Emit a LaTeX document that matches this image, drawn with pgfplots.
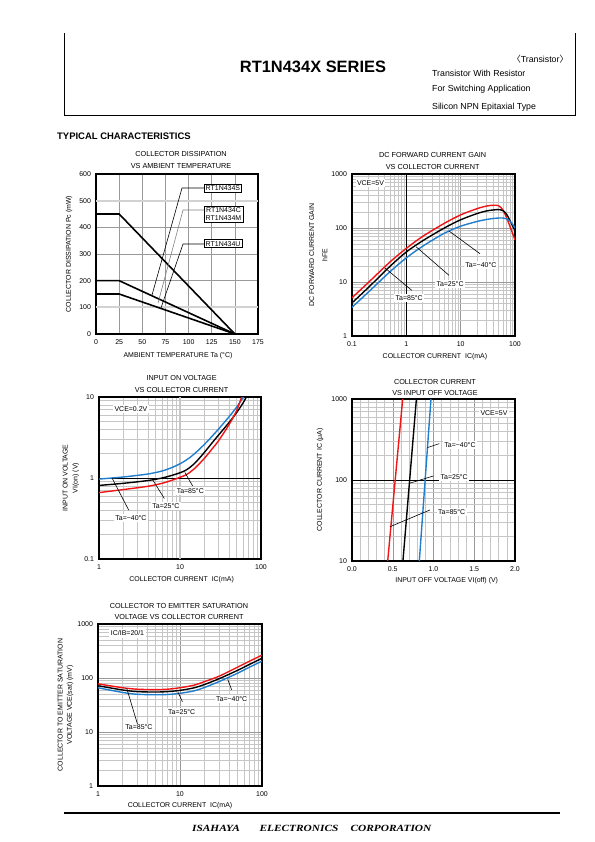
\documentclass[border=0pt]{standalone}
\usepackage{fontspec}
\setmainfont{Liberation Sans}
\newfontfamily\cjk{Noto Sans CJK JP}
\newfontfamily\serbi{Liberation Serif}
\usepackage{graphicx}
\usepackage{pgfplots}
\pgfplotsset{compat=1.18}

\definecolor{cred}{RGB}{240,20,20}
\definecolor{cblue}{RGB}{30,125,205}
\newcommand\tk{\fontsize{7}{8.4}\selectfont}
\newcommand\ttl{\fontsize{7.3}{11.7}\selectfont}

\pgfplotsset{
  ds/.style={
    scale only axis, anchor=north west,
    axis line style={line width=1.2pt},
    major tick length=0pt, minor tick length=0pt,
    major grid style={gray!80, line width=0.5pt},
    minor grid style={gray!45, line width=0.45pt},
    tick label style={font=\tk},
    xticklabel style={yshift=-2pt},
    yticklabel style={xshift=-1.5pt},
    label style={font=\tk},
    title style={font=\ttl, align=center, anchor=center, yshift=-6.5pt},
    xlabel style={anchor=center},
    ylabel style={anchor=center, align=center},
  },
  crv/.style={line width=1.4pt, smooth},
}
\tikzset{
  lead/.style={black, line width=0.6pt},
  lab/.style={font=\tk, fill=white, inner sep=1.5pt},
}

\begin{document}
\begin{tikzpicture}
\path[use as bounding box] (0,0) rectangle (595bp,-842bp);

% ---------- header ----------
\draw[line width=1pt] (64bp,-33bp) -- (64bp,-115bp) -- (575bp,-115bp) -- (575bp,-33bp);
\node[font=\fontsize{16.5}{18}\selectfont\bfseries] at (313bp,-67bp) {RT1N434X SERIES};
\node[anchor=east, font=\fontsize{8.8}{10}\selectfont, inner sep=0pt] at (568.5bp,-58.7bp) {{\cjk 〈}Transistor{\cjk 〉}};
\node[anchor=west, font=\fontsize{8.8}{10}\selectfont, inner sep=0pt] at (432bp,-73.7bp) {Transistor With Resistor};
\node[anchor=west, font=\fontsize{8.8}{10}\selectfont, inner sep=0pt] at (432bp,-89.7bp) {For Switching Application};
\node[anchor=west, font=\fontsize{8.8}{10}\selectfont, inner sep=0pt] at (432bp,-107bp) {Silicon NPN Epitaxial Type};
\node[anchor=west, font=\fontsize{9.5}{11}\selectfont\bfseries, inner sep=0pt] at (57bp,-136bp) {TYPICAL CHARACTERISTICS};

% ---------- chart 1 ----------
\begin{axis}[ds, at={(96bp,-174bp)}, width=162bp, height=160bp,
  xmin=0, xmax=175, ymin=0, ymax=600,
  xtick={0,25,50,75,100,125,150,175}, xticklabels={0,25,50,75,100,125,150,175},
  ytick={0,100,200,300,400,500,600}, yticklabels={0,100,200,300,400,500,600},
  grid=major, axis line style={line width=1.5pt},
  title={COLLECTOR DISSIPATION\\VS AMBIENT TEMPERATURE},
  title style={at={(axis description cs:0.525,1.091)}},
  xlabel={AMBIENT TEMPERATURE Ta (°C)},
  xlabel style={at={(axis description cs:0.506,-0.136)}},
  ylabel={COLLECTOR DISSIPATION Pc (mW)},
  ylabel style={at={(axis description cs:-0.167,0.5)}}]
\draw[gray!35, line width=1.8pt] (axis cs:0,100) -- (axis cs:175,100);
\draw[gray!35, line width=1.8pt] (axis cs:0,500) -- (axis cs:175,500);
\addplot[black, line width=1.6pt] coordinates {(0,450) (25,450) (150,0)};
\addplot[black, line width=1.6pt] coordinates {(0,200) (25,200) (150,0)};
\addplot[black, line width=1.6pt] coordinates {(0,150) (25,150) (150,0)};
\draw[lead] (axis cs:116.7,547.5) -- (axis cs:92.9,547.5) -- (axis cs:60.5,146);
\draw[lead, gray] (axis cs:116.7,465) -- (axis cs:94,465) -- (axis cs:67,116);
\draw[lead] (axis cs:116.7,337.5) -- (axis cs:94,337.5) -- (axis cs:70.2,97.5);
\node[draw, lab, anchor=west] at (axis cs:116.7,545.6) {RT1N434S};
\node[draw, lab, anchor=west, align=center] at (axis cs:116.7,450) {RT1N434C\\RT1N434M};
\node[draw, lab, anchor=west] at (axis cs:116.7,339) {RT1N434U};
\end{axis}

% ---------- chart 2 ----------
\begin{axis}[ds, at={(352bp,-174bp)}, width=163bp, height=162bp,
  xmode=log, ymode=log, xmin=0.1, xmax=100, ymin=1, ymax=1000,
  xtick={0.1,1,10,100}, xticklabels={0.1,1,10,100},
  ytick={1,10,100,1000}, yticklabels={1,10,100,1000},
  minor xtick={0.2,0.3,0.4,0.5,0.6,0.7,0.8,0.9,2,3,4,5,6,7,8,9,20,30,40,50,60,70,80,90},
  minor ytick={2,3,4,5,6,7,8,9,20,30,40,50,60,70,80,90,200,300,400,500,600,700,800,900},
  grid=both,
  title={DC FORWARD CURRENT GAIN\\VS COLLECTOR CURRENT},
  title style={at={(axis description cs:0.495,1.083)}},
  xlabel={COLLECTOR CURRENT\ \ IC(mA)},
  xlabel style={at={(axis description cs:0.509,-0.130)}},
  ylabel={DC FORWARD CURRENT GAIN\\[4.9pt]hFE},
  ylabel style={at={(axis description cs:-0.207,0.5)}}]
\draw[black, line width=0.8pt] (axis cs:1,1) -- (axis cs:1,1000);
\addplot[cred, crv] coordinates {(0.1,5.1) (0.2,9.8) (0.5,23.5) (1,42) (2,70) (5,122) (10,175) (20,228) (30,255) (40,264) (50,258) (60,215) (70,155) (80,110) (90,80) (100,60)};
\addplot[black, crv] coordinates {(0.1,4.1) (0.2,7.9) (0.5,19.5) (1,36) (2,58) (5,100) (10,142) (20,185) (30,207) (40,216) (50,219) (60,210) (70,180) (80,140) (90,110) (100,88)};
\addplot[cblue, crv] coordinates {(0.1,3.4) (0.2,6.5) (0.5,15.5) (1,28) (2,46) (5,80) (10,108) (20,132) (30,144) (40,150) (50,153) (60,153) (70,148) (80,135) (90,118) (100,100)};
\draw[lead] (axis cs:6.1,88) -- (axis cs:22.7,33.4);
\draw[lead] (axis cs:1.51,45) -- (axis cs:6.1,13.3);
\draw[lead] (axis cs:0.404,18.2) -- (axis cs:1.26,7.0);
\node[lab] at (axis cs:23.5,20.6) {Ta=−40°C};
\node[lab] at (axis cs:6.37,9.2) {Ta=25°C};
\node[lab] at (axis cs:1.13,5.0) {Ta=85°C};
\node[lab] at (axis cs:0.219,681) {VCE=5V};
\end{axis}

% ---------- chart 3 ----------
\begin{axis}[ds, at={(99bp,-397bp)}, width=162bp, height=162bp,
  xmode=log, ymode=log, xmin=1, xmax=100, ymin=0.1, ymax=10,
  xtick={1,10,100}, xticklabels={1,10,100},
  ytick={0.1,1,10}, yticklabels={0.1,1,10},
  minor xtick={2,3,4,5,6,7,8,9,20,30,40,50,60,70,80,90},
  minor ytick={0.2,0.3,0.4,0.5,0.6,0.7,0.8,0.9,2,3,4,5,6,7,8,9},
  grid=both,
  title={INPUT ON VOLTAGE\\VS COLLECTOR CURRENT},
  title style={at={(axis description cs:0.51,1.085)}},
  xlabel={COLLECTOR CURRENT\ \ IC(mA)},
  xlabel style={at={(axis description cs:0.51,-0.130)}},
  ylabel={INPUT ON VOLTAGE\\[1.6pt]VI(on) (V)},
  ylabel style={at={(axis description cs:-0.173,0.5)}}]
\draw[gray!45, line width=1.6pt] (axis cs:10,0.1) -- (axis cs:10,10);
\draw[black, line width=0.7pt] (axis cs:1,1) -- (axis cs:100,1);
\addplot[cblue, crv] coordinates {(1,0.97) (2,1.03) (4,1.12) (6,1.22) (8,1.35) (10,1.5) (12,1.67) (15,1.98) (20,2.6) (25,3.29) (30,4.03) (40,5.65) (50,7.5) (60,9.8) (63,10.6)};
\addplot[black, crv] coordinates {(1,0.81) (2,0.86) (4,0.93) (6,1.0) (8,1.08) (10,1.16) (12,1.26) (15,1.5) (20,2.07) (25,2.73) (30,3.4) (40,4.8) (50,6.42) (60,8.44) (67,10.3)};
\addplot[cred, crv] coordinates {(1,0.66) (2,0.72) (4,0.79) (6,0.86) (8,0.94) (10,1.02) (12,1.10) (15,1.3) (20,1.75) (25,2.3) (30,2.9) (40,4.5) (50,6.8) (58,10.2)};
\draw[lead] (axis cs:1.45,1.0) -- (axis cs:2.33,0.40);
\draw[lead] (axis cs:4.6,0.95) -- (axis cs:6.4,0.56);
\draw[lead] (axis cs:11.5,1.17) -- (axis cs:14.3,0.80);
\node[lab] at (axis cs:2.48,0.323) {Ta=−40°C};
\node[lab] at (axis cs:6.7,0.447) {Ta=25°C};
\node[lab] at (axis cs:13.4,0.687) {Ta=85°C};
\node[lab] at (axis cs:2.48,7.1) {VCE=0.2V};
\end{axis}

% ---------- chart 4 ----------
\begin{axis}[ds, at={(352bp,-399bp)}, width=163bp, height=162bp,
  ymode=log, xmin=0, xmax=2, ymin=10, ymax=1000,
  xtick={0,0.5,1,1.5,2}, xticklabels={0.0,0.5,1.0,1.5,2.0},
  minor x tick num=4,
  ytick={10,100,1000}, yticklabels={10,100,1000},
  minor ytick={20,30,40,50,60,70,80,90,200,300,400,500,600,700,800,900},
  grid=both,
  title={COLLECTOR CURRENT\\VS INPUT OFF VOLTAGE},
  title style={at={(axis description cs:0.509,1.075)}},
  xlabel={INPUT OFF VOLTAGE VI(off) (V)},
  xlabel style={at={(axis description cs:0.581,-0.123)}},
  ylabel={COLLECTOR CURRENT IC (μA)},
  ylabel style={at={(axis description cs:-0.196,0.5)}}]
\draw[black, line width=0.7pt] (axis cs:0,100) -- (axis cs:2,100);
\addplot[cred, line width=1.4pt] coordinates {(0.438,10) (0.622,1000)};
\addplot[black, line width=1.4pt] coordinates {(0.625,10) (0.79,1000)};
\addplot[cblue, line width=1.4pt] coordinates {(0.826,10) (0.969,1000)};
\draw[lead] (axis cs:0.924,251) -- (axis cs:1.071,281);
\draw[lead] (axis cs:0.703,91) -- (axis cs:0.998,112);
\draw[lead] (axis cs:0.466,26.5) -- (axis cs:0.957,42.7);
\node[lab] at (axis cs:1.325,269) {Ta=−40°C};
\node[lab] at (axis cs:1.254,108) {Ta=25°C};
\node[lab] at (axis cs:1.223,40.5) {Ta=85°C};
\node[lab] at (axis cs:1.742,666) {VCE=5V};
\end{axis}

% ---------- chart 5 ----------
\begin{axis}[ds, at={(98bp,-624bp)}, width=164bp, height=162bp,
  xmode=log, ymode=log, xmin=1, xmax=100, ymin=1, ymax=1000,
  xtick={1,10,100}, xticklabels={1,10,100},
  ytick={1,10,100,1000}, yticklabels={1,10,100,1000},
  minor xtick={2,3,4,5,6,7,8,9,20,30,40,50,60,70,80,90},
  minor ytick={2,3,4,5,6,7,8,9,20,30,40,50,60,70,80,90,200,300,400,500,600,700,800,900},
  grid=both,
  title={COLLECTOR TO EMITTER SATURATION\\VOLTAGE VS COLLECTOR CURRENT},
  title style={at={(axis description cs:0.494,1.081)}},
  xlabel={COLLECTOR CURRENT\ \ IC(mA)},
  xlabel style={at={(axis description cs:0.5,-0.122)}},
  ylabel={COLLECTOR TO EMITTER SATURATION\\[1pt]VOLTAGE VCE(sat) (mV)},
  ylabel style={at={(axis description cs:-0.198,0.5)}}]
\addplot[cred, crv] coordinates {(1,78) (2,66) (3,62) (5,61) (7,62) (10,66) (15,74) (20,86) (30,108) (50,158) (70,204) (100,265)};
\addplot[black, crv] coordinates {(1,72) (2,60) (3,56) (5,55) (7,56) (10,59) (15,66) (20,76) (30,97) (50,138) (70,178) (100,232)};
\addplot[cblue, crv] coordinates {(1,66) (2,54) (3,50) (5,49) (7,49.5) (10,52) (15,58) (20,67) (30,86) (50,122) (70,158) (100,205)};
\draw[lead] (axis cs:2.24,64.4) -- (axis cs:3.05,13.5);
\draw[lead] (axis cs:9.4,55.7) -- (axis cs:10.7,36.4);
\draw[lead] (axis cs:38.2,94.6) -- (axis cs:42.7,60);
\node[lab] at (axis cs:3.16,12.1) {Ta=85°C};
\node[lab] at (axis cs:10.5,23.4) {Ta=25°C};
\node[lab] at (axis cs:42.7,40.5) {Ta=−40°C};
\node[lab] at (axis cs:2.29,667) {IC/IB=20/1};
\end{axis}

% ---------- footer ----------
\draw[line width=1.6pt] (64bp,-813bp) -- (560bp,-813bp);
\node[font=\fontsize{9.5}{11}\selectfont\serbi\bfseries\itshape] at (216bp,-828bp) {\scalebox{1.2}[1]{ISAHAYA}};
\node[font=\fontsize{9.5}{11}\selectfont\serbi\bfseries\itshape] at (299bp,-828bp) {\scalebox{1.2}[1]{ELECTRONICS}};
\node[font=\fontsize{9.5}{11}\selectfont\serbi\bfseries\itshape] at (391bp,-828bp) {\scalebox{1.2}[1]{CORPORATION}};
\end{tikzpicture}
\end{document}
